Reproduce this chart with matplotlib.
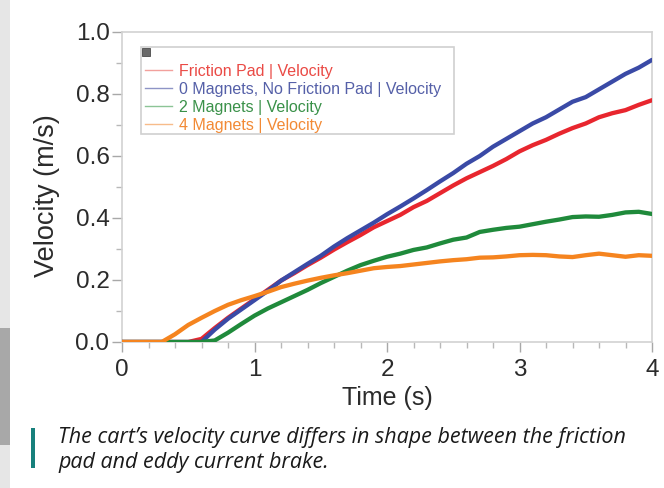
import numpy as np
import matplotlib.pyplot as plt
from matplotlib.lines import Line2D
from matplotlib.patches import Rectangle

# time base (s), read every 0.1 s off the picture
time_s = [0.0, 0.1, 0.2, 0.3, 0.4, 0.5, 0.6, 0.7, 0.8, 0.9,
          1.0, 1.1, 1.2, 1.3, 1.4, 1.5, 1.6, 1.7, 1.8, 1.9,
          2.0, 2.1, 2.2, 2.3, 2.4, 2.5, 2.6, 2.7, 2.8, 2.9,
          3.0, 3.1, 3.2, 3.3, 3.4, 3.5, 3.6, 3.7, 3.8, 3.9, 4.0]

friction_pad = [0.0, 0.0, 0.0, 0.0, 0.0, 0.0, 0.010, 0.045, 0.078, 0.108,
                0.138, 0.168, 0.198, 0.222, 0.248, 0.272, 0.298, 0.322, 0.345, 0.370,
                0.390, 0.410, 0.435, 0.455, 0.480, 0.505, 0.528, 0.548, 0.568, 0.590,
                0.615, 0.635, 0.652, 0.672, 0.690, 0.705, 0.725, 0.738, 0.748, 0.765, 0.780]

no_magnets = [0.0, 0.0, 0.0, 0.0, 0.0, 0.0, 0.0, 0.040, 0.075, 0.105,
              0.135, 0.165, 0.198, 0.225, 0.252, 0.278, 0.308, 0.335, 0.360, 0.385,
              0.412, 0.437, 0.463, 0.490, 0.518, 0.545, 0.575, 0.600, 0.630, 0.655,
              0.680, 0.705, 0.725, 0.750, 0.775, 0.790, 0.815, 0.840, 0.865, 0.885, 0.910]

two_magnets = [0.0, 0.0, 0.0, 0.0, 0.0, 0.0, 0.0, 0.005, 0.030, 0.058,
               0.085, 0.108, 0.128, 0.148, 0.168, 0.190, 0.210, 0.230, 0.248, 0.262,
               0.275, 0.285, 0.297, 0.305, 0.318, 0.330, 0.337, 0.355, 0.362, 0.368,
               0.372, 0.380, 0.388, 0.395, 0.403, 0.405, 0.404, 0.410, 0.418, 0.420, 0.413]

four_magnets = [0.0, 0.0, 0.0, 0.0, 0.025, 0.055, 0.078, 0.100, 0.120, 0.135,
                0.148, 0.162, 0.177, 0.188, 0.198, 0.207, 0.215, 0.222, 0.230, 0.238,
                0.242, 0.245, 0.250, 0.255, 0.260, 0.264, 0.267, 0.272, 0.273, 0.276,
                0.280, 0.281, 0.280, 0.276, 0.274, 0.280, 0.285, 0.280, 0.275, 0.280, 0.278]

labels = ["Friction Pad | Velocity",
          "0 Magnets, No Friction Pad | Velocity",
          "2 Magnets | Velocity",
          "4 Magnets | Velocity"]
line_colors = ["#e8262e", "#3a4aa6", "#1f8a3b", "#f5841f"]
text_colors = ["#ea4a45", "#5560a8", "#3a9149", "#f28a35"]
handle_colors = ["#f2a09c", "#8e94c6", "#8cc496", "#f7bc8a"]

caption_lines = ["The cart\u2019s velocity curve differs in shape between the friction",
                 "pad and eddy current brake."]

plt.rcParams['font.family'] = ['Liberation Sans', 'DejaVu Sans']

W, H = 664, 488
fig = plt.figure(figsize=(6.64, 4.88), dpi=100)
ax = fig.add_axes([122/W, 1 - 342/H, 530/W, 310/H])

# page shadow / photo strip at the left edge
fig.patches.append(Rectangle((0, 0), 10/W, 1, transform=fig.transFigure,
                             facecolor="#e6e6e6", edgecolor="none", zorder=0))
fig.patches.append(Rectangle((0, 1 - 445/H), 10/W, 117/H, transform=fig.transFigure,
                             facecolor="#a8a8a8", edgecolor="none", zorder=0))

series = [friction_pad, no_magnets, two_magnets, four_magnets]
draw_order = [3, 2, 0, 1]
for i in draw_order:
  ax.plot(time_s, series[i], color=line_colors[i], lw=3.1, solid_capstyle='round', zorder=3 + i)

ax.set_xlim(0, 4)
ax.set_ylim(0, 1.0)
ax.set_xticks([0, 1, 2, 3, 4])
ax.set_xticks(np.arange(0, 4.01, 0.2), minor=True)
ax.set_yticks([0.0, 0.2, 0.4, 0.6, 0.8, 1.0])
ax.set_yticks(np.arange(0, 1.01, 0.1), minor=True)
ax.set_yticklabels(["0.0", "0.2", "0.4", "0.6", "0.8", "1.0"])

for side in ['left', 'right', 'top', 'bottom']:
  ax.spines[side].set_color("#d2d2d2")
  ax.spines[side].set_linewidth(1.2)

ax.tick_params(which='major', length=7, width=1, color="#a8a8a8", labelsize=17.5,
               labelcolor="#2b2b2b")
ax.tick_params(axis='y', which='major', pad=2)
ax.tick_params(axis='x', which='major', pad=5)
ax.tick_params(which='minor', length=4, width=1, color="#b8b8b8")

ax.set_xlabel("Time (s)", fontsize=18, color="#2b2b2b", labelpad=4)
ax.set_ylabel("Velocity (m/s)", fontsize=19.5, color="#2b2b2b")
ax.yaxis.set_label_coords((60 - 122)/530, (342 - 196)/310)

# legend frame drawn by hand so the corner square fits inside
ax.add_patch(Rectangle(((141 - 122)/530, (342 - 134)/310), 313/530, 87/310,
                       transform=ax.transAxes, facecolor="white", edgecolor="#d0d0d0",
                       lw=1.2, zorder=8))
ax.add_patch(Rectangle(((142 - 122)/530, (342 - 56)/310), 8/530, 8/310,
                       transform=ax.transAxes, facecolor="#6a6a6a", edgecolor="#4a4a4a",
                       lw=0.6, zorder=9))

handles = [Line2D([0], [0], color=c, lw=1.0) for c in handle_colors]
leg = ax.legend(handles, labels, loc='upper left',
                bbox_to_anchor=((145 - 122)/530, (342 - 64)/310),
                fontsize=11.5, frameon=False, handlelength=1.7,
                handletextpad=0.45, labelspacing=0.18, borderpad=0, borderaxespad=0)
leg.set_zorder(10)
for txt, c in zip(leg.get_texts(), text_colors):
  txt.set_color(c)

# caption with teal bar
fig.patches.append(Rectangle((31/W, 1 - 468/H), 4/W, 40/H, transform=fig.transFigure,
                             facecolor="#17807c", edgecolor="none"))
for k, line in enumerate(caption_lines):
  fig.text(58/W, 1 - (443 + 25*k)/H, line, family=['Open Sans', 'DejaVu Sans'],
           style='italic', fontsize=15.5, color="#1a1a1a", va='baseline', ha='left')

fig.savefig("out.png", dpi=100)
